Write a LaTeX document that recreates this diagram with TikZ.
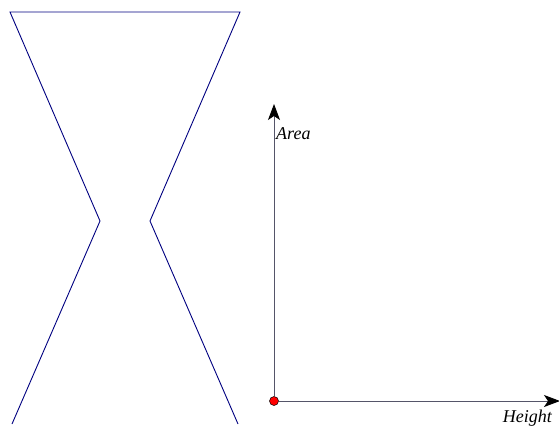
\documentclass[tikz,border=0pt]{standalone}
\usepackage{fontspec}
\setmainfont{Liberation Serif}
\usetikzlibrary{arrows.meta}
\definecolor{axisgray}{RGB}{85,85,105}

\begin{document}
\begin{tikzpicture}[
    x=1pt,
    y=-1pt,
    >={Stealth[length=16pt, width=12pt, inset=4pt, color=black]},
    vessel/.style={draw=blue!50!black, line width=0.9pt},
    axis/.style={draw=axisgray, line width=0.9pt},
    every node/.style={font=\itshape\fontsize{18}{21}\selectfont, inner sep=0pt}
]
\useasboundingbox (0,0) rectangle (559,426);

%---------------- Vessel outline ----------------
\draw[vessel] (12,424) -- (100,221) -- (10,12) -- (240,12) -- (150,221) -- (238,424);

%---------------- Axes ----------------
\node[circle, fill=red, draw=black, line width=0.5pt, minimum size=9pt] (O) at (274,401) {};
\coordinate (Ytip) at (274,104);
\coordinate (Xtip) at (560,401);
\draw[axis, ->] (O) -- (Ytip);
\draw[axis, ->] (O) -- (Xtip);
\node[anchor=base west] (area) at (276,139) {Area};
\node[anchor=base east] (height) at (552,422) {Height};
\end{tikzpicture}
\end{document}
